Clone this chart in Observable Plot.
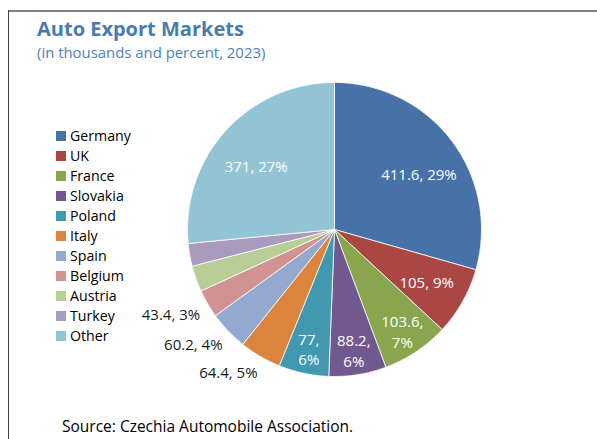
<!DOCTYPE html>
<html><head><meta charset="utf-8">
<script src="https://cdn.jsdelivr.net/npm/d3@7"></script>
<script src="https://cdn.jsdelivr.net/npm/@observablehq/plot@0.6"></script>
<style>
body{margin:0;background:#fff;font-family:"Open Sans",sans-serif;}
#wrap{position:relative;width:597px;height:439px;overflow:hidden;background:#fff;}
#wrap svg{position:absolute;left:0;top:0;}
#topline{position:absolute;left:8px;top:10px;width:589px;height:2px;background:#808080;}
#leftline{position:absolute;left:8px;top:10px;width:1px;height:429px;background:#404040;}
#title{position:absolute;left:37px;top:17px;font-size:20px;font-weight:bold;color:#4a7bb0;white-space:nowrap;line-height:1.2;}
#subtitle{position:absolute;left:37px;top:44px;font-size:14.9px;color:#4f81bd;white-space:nowrap;line-height:1.2;}
#legend{position:absolute;left:56px;top:126px;font-size:14.2px;color:#000;}
#legend .item{height:20px;line-height:20px;display:flex;align-items:center;white-space:nowrap;}
#legend .sw{width:10px;height:10px;margin-right:4px;}
#caption{position:absolute;left:62px;top:417px;font-size:15.5px;color:#000;white-space:nowrap;line-height:1.2;}
</style></head>
<body>
<div id="wrap">
  <div id="chart"></div>
  <div id="topline"></div>
  <div id="leftline"></div>
  <div id="title">Auto Export Markets</div>
  <div id="subtitle">(in thousands and percent, 2023)</div>
  <div id="legend"></div>
  <div id="caption">Source: Czechia Automobile Association.</div>
</div>
<script>
const countries = ["Germany","UK","France","Slovakia","Poland","Italy","Spain","Belgium","Austria","Turkey","Other"];
const values = [411.6, 105, 103.6, 88.2, 77, 64.4, 60.2, 43.4, 40, 35, 371];
const labels = ["411.6, 29%","105, 9%","103.6,\n7%","88.2,\n6%","77,\n6%","64.4, 5%","60.2, 4%","43.4, 3%","","","371, 27%"];
const colors = ["#4672a8","#aa4644","#89a54e","#71588f","#4198af","#db843d","#93a9cf","#d19392","#b9cd96","#a99bbd","#93c4d5"];

const rows = countries.map((name, i) => ({name, value: values[i], label: labels[i]}));
const arcs = d3.pie().sort(null).value(d => d.value).startAngle(0).endAngle(2 * Math.PI)(rows);

const slicePts = [];
for (const a of arcs) {
  slicePts.push({name: a.data.name, x: 0, y: 0});
  const n = Math.max(2, Math.ceil((a.endAngle - a.startAngle) / (Math.PI / 360)));
  for (let k = 0; k <= n; k++) {
    const t = a.startAngle + (a.endAngle - a.startAngle) * k / n;
    slicePts.push({name: a.data.name, x: Math.sin(t), y: Math.cos(t)});
  }
  slicePts.push({name: a.data.name, x: 0, y: 0});
}

const inside = [], outside = [];
for (const a of arcs) {
  if (!a.data.label) continue;
  const mid = (a.startAngle + a.endAngle) / 2;
  if (a.data.value >= 70) {
    const r = a.data.label.includes("\n") ? 0.83 : 0.72;
    inside.push({label: a.data.label, x: r * Math.sin(mid), y: r * Math.cos(mid), big: a.data.value > 200});
  } else {
    const r = 1.09;
    outside.push({label: a.data.label, x: r * Math.sin(mid), y: r * Math.cos(mid)});
  }
}

const plot = Plot.plot({
  width: 597, height: 439, margin: 0,
  x: {domain: [-1, 1], range: [187, 481], axis: null},
  y: {domain: [-1, 1], range: [376, 82], axis: null},
  color: {domain: countries, range: colors},
  style: {fontFamily: "'Open Sans', sans-serif", background: "transparent"},
  marks: [
    Plot.line(slicePts, {x: "x", y: "y", z: "name", fill: "name", stroke: "white", strokeWidth: 0.8, strokeLinejoin: "round"}),
    Plot.text(inside.filter(d => d.big), {x: "x", y: "y", text: "label", fill: "white", fontSize: 15, dy: 9}),
    Plot.text(inside.filter(d => !d.big), {x: "x", y: "y", text: "label", fill: "white", fontSize: 15, lineHeight: 1.35}),
    Plot.text(outside, {x: "x", y: "y", text: "label", fill: "#1a1a1a", fontSize: 15, textAnchor: "end", dx: 4, dy: 5})
  ]
});
document.getElementById("chart").appendChild(plot);

const legend = document.getElementById("legend");
countries.forEach((c, i) => {
  const it = document.createElement("div");
  it.className = "item";
  const sw = document.createElement("span");
  sw.className = "sw";
  sw.style.background = colors[i];
  const tx = document.createElement("span");
  tx.textContent = c;
  it.appendChild(sw); it.appendChild(tx);
  legend.appendChild(it);
});
</script>
</body></html>
